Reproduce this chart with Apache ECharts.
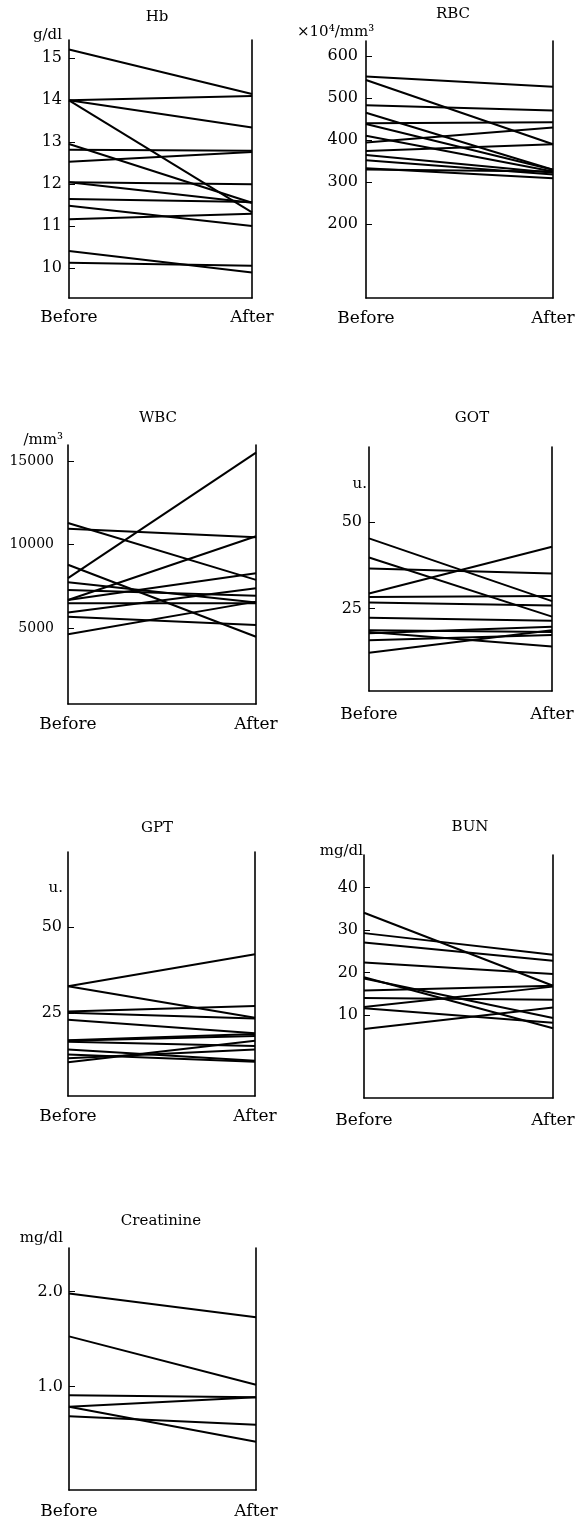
<!DOCTYPE html>
<html><head><meta charset="utf-8">
<script src="https://cdn.jsdelivr.net/npm/echarts@6/dist/echarts.min.js"></script>
<style>html,body{margin:0;padding:0;background:#fff}#c{width:588px;height:1521px}</style>
</head><body><div id="c"></div>
<script>
// ---- data ----
const categories = ['Before', 'After'];

const hbBefore = [15.21, 14.0, 14.0, 14.0, 12.96, 12.82, 12.54, 12.05, 12.05, 11.65, 11.49, 11.17, 10.41, 10.13];
const hbAfter  = [14.15, 14.10, 13.35, 11.33, 11.56, 12.80, 12.77, 12.0, 11.56, 11.58, 11.01, 11.30, 9.90, 10.06];
const hbTicks  = [10, 11, 12, 13, 14, 15];

const rbcBefore = [551, 543, 483, 465, 440, 438, 410, 394, 374, 364, 352, 333, 330];
const rbcAfter  = [527, 390, 470, 329, 442, 329, 325, 430, 390, 322, 318, 309, 325];
const rbcTicks  = [200, 300, 400, 500, 600];

const wbcBefore = [11300, 10950, 8800, 8000, 7750, 7300, 6700, 6700, 6500, 5950, 5700, 4650];
const wbcAfter  = [7900, 10450, 4500, 15500, 6550, 6950, 10500, 8300, 6500, 7400, 5200, 6600];
const wbcTicks  = [5000, 10000, 15000];

const gotBefore = [45.2, 39.7, 36.5, 29.3, 28.3, 26.7, 22.3, 18.7, 18.2, 17.8, 15.8, 12.2];
const gotAfter  = [27.1, 22.6, 35.1, 42.8, 28.6, 25.8, 21.4, 18.2, 14.0, 19.7, 17.3, 18.7];
const gotTicks  = [25, 50];

const gptBefore = [32.9, 32.9, 25.5, 25.2, 23.1, 17.2, 17.0, 16.7, 14.5, 13.0, 11.9, 10.8];
const gptAfter  = [42.2, 23.7, 27.1, 23.5, 19.2, 19.0, 18.4, 15.5, 11.2, 10.9, 14.5, 17.0];
const gptTicks  = [25, 50];

const bunBefore = [34.1, 29.3, 27.1, 22.4, 18.9, 18.6, 15.8, 14.0, 11.9, 11.6, 6.7];
const bunAfter  = [16.9, 24.2, 22.8, 19.7, 6.9, 9.3, 16.9, 13.6, 16.7, 8.2, 11.8];
const bunTicks  = [10, 20, 30, 40];

const creBefore = [1.98, 1.53, 0.91, 0.79, 0.79, 0.69];
const creAfter  = [1.73, 1.02, 0.89, 0.89, 0.42, 0.60];
const creTicks  = [1.0, 2.0];

// ---- layout ----
const FONT = '"DejaVu Serif", "Liberation Serif", serif';
const panels = [
  {title:'Hb', unit:'g/dl', before:hbBefore, after:hbAfter, ticks:hbTicks,
   grid:{left:69, top:40, width:183, height:258}, min:9.293, max:15.436, lab:16, lm:7, xm:11,
   tpos:[157,17], upos:[62,35,'right']},
  {title:'RBC', unit:'×10⁴/mm³', before:rbcBefore, after:rbcAfter, ticks:rbcTicks,
   grid:{left:366, top:41, width:187, height:257}, min:23.8, max:635.7, lab:16, lm:8, xm:12,
   tpos:[453,14], upos:[297,32,'left']},
  {title:'WBC', unit:'/mm³', before:wbcBefore, after:wbcAfter, ticks:wbcTicks,
   grid:{left:68, top:445, width:188, height:259}, min:484, max:15955, lab:14, lm:14, xm:12,
   tpos:[158,418], upos:[63,440,'right']},
  {title:'GOT', unit:'u.', before:gotBefore, after:gotAfter, ticks:gotTicks,
   grid:{left:369, top:447, width:183, height:244}, min:1.13, max:71.6, lab:16, lm:7, xm:15,
   tpos:[472,418], upos:[367,484,'right']},
  {title:'GPT', unit:'u.', before:gptBefore, after:gptAfter, ticks:gptTicks,
   grid:{left:68, top:852, width:187, height:244}, min:0.96, max:71.9, lab:16, lm:6, xm:12,
   tpos:[157,828], upos:[63,888,'right']},
  {title:'BUN', unit:'mg/dl', before:bunBefore, after:bunAfter, ticks:bunTicks,
   grid:{left:364, top:855, width:189, height:243}, min:-9.53, max:47.7, lab:16, lm:6, xm:14,
   tpos:[470,827], upos:[363,851,'right']},
  {title:'Creatinine', unit:'mg/dl', before:creBefore, after:creAfter, ticks:creTicks,
   grid:{left:69, top:1248, width:187, height:242}, min:-0.087, max:2.46, lab:16, lm:6, xm:13,
   tpos:[161,1221], upos:[63,1238,'right'], fmt:v => Number(v).toFixed(1)}
];

const grids = [], xAxes = [], yAxes = [], series = [], graphics = [];
const axisLineStyle = {color:'#000', width:1.6};

panels.forEach((p, i) => {
  grids.push(Object.assign({containLabel:false}, p.grid));
  xAxes.push({
    type:'category', gridIndex:i, data:categories, boundaryGap:false,
    axisLine:{show:true, onZero:false, lineStyle:axisLineStyle}, axisTick:{show:false},
    axisLabel:{interval:0, margin:p.xm, fontSize:17, fontFamily:FONT, color:'#000'},
    splitLine:{show:false}
  });
  yAxes.push({
    type:'value', gridIndex:i, min:p.min, max:p.max, position:'left',
    axisLine:{show:true, onZero:false, lineStyle:axisLineStyle},
    axisTick:{show:true, inside:true, length:6, customValues:p.ticks, lineStyle:{color:'#000', width:1}},
    axisLabel:{customValues:p.ticks, margin:p.lm, fontSize:p.lab, fontFamily:FONT, color:'#000',
      formatter: p.fmt ? p.fmt : (v => String(v))},
    splitLine:{show:false}
  });
  yAxes.push({
    type:'value', gridIndex:i, min:p.min, max:p.max, position:'right',
    axisLine:{show:true, onZero:false, lineStyle:axisLineStyle}, axisTick:{show:false},
    axisLabel:{show:false}, splitLine:{show:false}
  });
  p.before.forEach((b, k) => {
    series.push({
      type:'line', xAxisIndex:i, yAxisIndex:2*i, data:[b, p.after[k]],
      symbol:'none', silent:true, lineStyle:{color:'#000', width:2}
    });
  });
  graphics.push({type:'text', x:p.tpos[0], y:p.tpos[1],
    style:{text:p.title, font:'15px ' + FONT, fill:'#000', textAlign:'center', textVerticalAlign:'middle'}});
  graphics.push({type:'text', x:p.upos[0], y:p.upos[1],
    style:{text:p.unit, font:'15px ' + FONT, fill:'#000', textAlign:p.upos[2], textVerticalAlign:'middle'}});
});

const chart = echarts.init(document.getElementById('c'), null, {renderer:'canvas'});
chart.setOption({
  animation:false,
  backgroundColor:'#fff',
  grid:grids, xAxis:xAxes, yAxis:yAxes, series:series, graphic:graphics
});
</script></body></html>
